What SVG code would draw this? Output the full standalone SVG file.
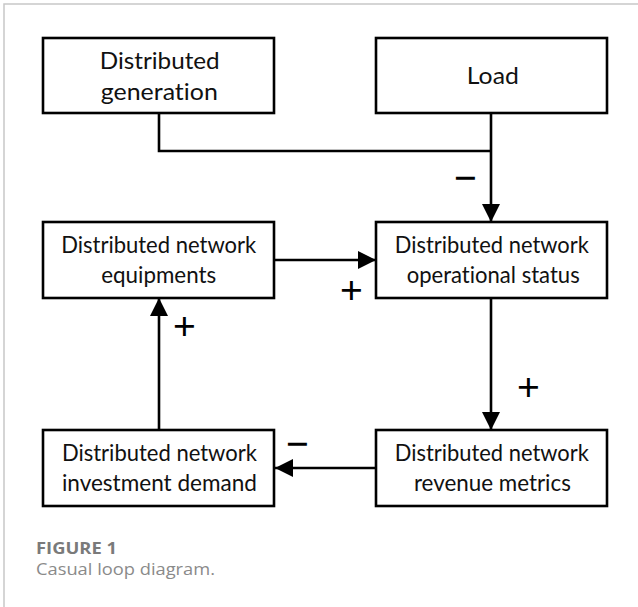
<svg xmlns="http://www.w3.org/2000/svg" width="638" height="607" viewBox="0 0 638 607">
<defs>
<style>
.frame{stroke:#c8c8c8;stroke-width:1.5;fill:none}
.box{fill:#fff;stroke:#000;stroke-width:2.6}
.lbl{font-family:Lato,"Liberation Sans",sans-serif;font-size:23px;fill:#111;text-anchor:middle;font-variant-ligatures:none}
.conn{fill:none;stroke:#000;stroke-width:2.6}
.sign{font-family:"Liberation Sans",Arial,sans-serif;font-size:39px;fill:#000;text-anchor:middle}
.figt{font-family:"Open Sans","Liberation Sans",sans-serif;font-size:16.5px;font-weight:bold;fill:#7a7a7a}
.cap{font-family:"Open Sans","Liberation Sans",sans-serif;font-size:16.5px;fill:#8a8a8a}
</style>
<marker id="ah" viewBox="0 0 18 18" refX="18" refY="9" markerWidth="18" markerHeight="18" markerUnits="userSpaceOnUse" orient="auto">
<path d="M0,0 L18,9 L0,18 Z" fill="#000"/>
</marker>
</defs>
<rect width="638" height="607" fill="#fff"/>
<path class="frame" d="M638,4 H4 V607"/>

<g id="connectors">
<path class="conn" d="M159,113 V151 H491"/>
<path class="conn" d="M491,113 V222" marker-end="url(#ah)"/>
<path class="conn" d="M274,260 H376" marker-end="url(#ah)"/>
<path class="conn" d="M491,298 V430" marker-end="url(#ah)"/>
<path class="conn" d="M376,468 H275" marker-end="url(#ah)"/>
<path class="conn" d="M159,430 V298" marker-end="url(#ah)"/>
<text class="sign" x="465.5" y="190.5">−</text>
<text class="sign" x="351.5" y="302.5">+</text>
<text class="sign" x="184.5" y="339">+</text>
<text class="sign" x="528.5" y="399.5">+</text>
<text class="sign" x="297.5" y="456.5">−</text>
</g>

<g id="node-dg">
<rect class="box" x="43" y="38" width="231" height="75"/>
<text class="lbl" x="159.7" y="69" textLength="120" lengthAdjust="spacingAndGlyphs">Distributed</text>
<text class="lbl" x="159.3" y="100" textLength="117" lengthAdjust="spacingAndGlyphs">generation</text>
</g>
<g id="node-load">
<rect class="box" x="376" y="38" width="231" height="75"/>
<text class="lbl" x="492.8" y="84" textLength="52" lengthAdjust="spacingAndGlyphs">Load</text>
</g>
<g id="node-equip">
<rect class="box" x="43" y="222" width="231" height="76"/>
<text class="lbl" x="158.7" y="253" textLength="195" lengthAdjust="spacingAndGlyphs">Distributed network</text>
<text class="lbl" x="158.7" y="283" textLength="115" lengthAdjust="spacingAndGlyphs">equipments</text>
</g>
<g id="node-status">
<rect class="box" x="376" y="222" width="231" height="76"/>
<text class="lbl" x="491.8" y="253" textLength="194" lengthAdjust="spacingAndGlyphs">Distributed network</text>
<text class="lbl" x="493.2" y="283" textLength="173" lengthAdjust="spacingAndGlyphs">operational status</text>
</g>
<g id="node-invest">
<rect class="box" x="43" y="430" width="231" height="76"/>
<text class="lbl" x="159.4" y="461" textLength="195" lengthAdjust="spacingAndGlyphs">Distributed network</text>
<text class="lbl" x="159.4" y="491" textLength="195" lengthAdjust="spacingAndGlyphs">investment demand</text>
</g>
<g id="node-revenue">
<rect class="box" x="376" y="430" width="231" height="76"/>
<text class="lbl" x="491.8" y="461" textLength="194" lengthAdjust="spacingAndGlyphs">Distributed network</text>
<text class="lbl" x="492.4" y="491" textLength="157" lengthAdjust="spacingAndGlyphs">revenue metrics</text>
</g>

<text class="figt" x="36" y="554" textLength="81" lengthAdjust="spacingAndGlyphs">FIGURE 1</text>
<text class="cap" x="36" y="575" textLength="179" lengthAdjust="spacingAndGlyphs">Casual loop diagram.</text>
</svg>
